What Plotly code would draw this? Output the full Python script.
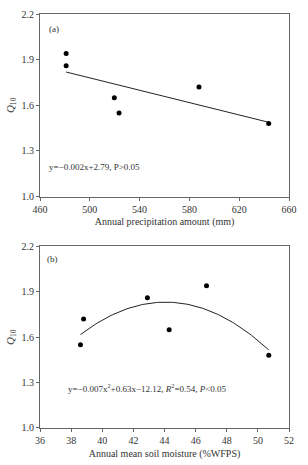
import numpy as np
import plotly.graph_objects as go
from plotly.subplots import make_subplots

# Data
q10 = [1.94, 1.86, 1.65, 1.55, 1.72, 1.48]
precip_mm = [481, 481, 519.7, 523.5, 587.7, 643.7]
soil_moisture = [46.7, 42.9, 44.3, 38.6, 38.8, 50.7]

y_ticks = [1.0, 1.3, 1.6, 1.9, 2.2]
x1_ticks = [460, 500, 540, 580, 620, 660]
x2_ticks = [36, 38, 40, 42, 44, 46, 48, 50, 52]

eq_a = "y=−0.002x+2.79, P>0.05"
eq_b = "y=−0.007x<sup>2</sup>+0.63x−12.12, <i>R</i><sup>2</sup>=0.54, <i>P</i><0.05"
xtitle_a = "Annual precipitation amount (mm)"
xtitle_b = "Annual mean soil moisture (%WFPS)"
ytitle = "<i>Q</i><sub>10</sub>"

FONT = "Liberation Serif"
TXT = "#333333"
AX = "#666666"

fig = make_subplots(rows=2, cols=1, vertical_spacing=0.12)

# linear fit for panel (a)
c1 = np.polyfit(precip_mm, q10, 1)
xa = np.array([min(precip_mm), max(precip_mm)])
fig.add_trace(go.Scatter(x=xa, y=np.polyval(c1, xa), mode="lines",
                         line=dict(color="#222222", width=1), showlegend=False), row=1, col=1)
fig.add_trace(go.Scatter(x=precip_mm, y=q10, mode="markers",
                         marker=dict(color="black", size=5), showlegend=False), row=1, col=1)

# quadratic fit for panel (b)
c2 = np.polyfit(soil_moisture, q10, 2)
xb = np.linspace(min(soil_moisture), max(soil_moisture), 100)
fig.add_trace(go.Scatter(x=xb, y=np.polyval(c2, xb), mode="lines",
                         line=dict(color="#222222", width=1), showlegend=False), row=2, col=1)
fig.add_trace(go.Scatter(x=soil_moisture, y=q10, mode="markers",
                         marker=dict(color="black", size=5), showlegend=False), row=2, col=1)

axis_common = dict(showgrid=False, zeroline=False, showline=True, mirror=True,
                   linecolor=AX, linewidth=1, ticks="outside", ticklen=3,
                   tickcolor=AX, tickfont=dict(family=FONT, size=10, color=TXT))

fig.update_xaxes(**axis_common)
fig.update_yaxes(**axis_common)

fig.update_xaxes(range=[460, 660], tickvals=x1_ticks,
                 title=dict(text=xtitle_a, standoff=4, font=dict(family=FONT, size=10, color=TXT)),
                 row=1, col=1)
fig.update_xaxes(range=[36, 52], tickvals=x2_ticks,
                 title=dict(text=xtitle_b, standoff=4, font=dict(family=FONT, size=10, color=TXT)),
                 row=2, col=1)
for r in (1, 2):
    fig.update_yaxes(range=[1.0, 2.2], tickvals=y_ticks, tickformat=".1f",
                     title=dict(text=ytitle, standoff=4, font=dict(family=FONT, size=11, color=TXT)),
                     row=r, col=1)

H = 465
mt, mb = 8, 33
ph = H - mt - mb
fig.update_layout(
    width=308, height=H,
    margin=dict(l=40, r=19, t=mt, b=mb),
    paper_bgcolor="white", plot_bgcolor="white",
    font=dict(family=FONT, size=10, color=TXT),
    xaxis=dict(domain=[0, 1]), xaxis2=dict(domain=[0, 1]),
    yaxis=dict(domain=[(432 - 195) / ph, 1.0]),
    yaxis2=dict(domain=[0, (432 - 246) / ph]),
)

fig.add_annotation(text="(a)", xref="x domain", yref="y domain", x=0.03, y=0.92,
                   xanchor="left", yanchor="middle", showarrow=False,
                   font=dict(family=FONT, size=9, color=TXT))
fig.add_annotation(text=eq_a, xref="x domain", yref="y domain", x=0.03, y=0.16,
                   xanchor="left", yanchor="middle", showarrow=False,
                   font=dict(family=FONT, size=9, color=TXT))
fig.add_annotation(text="(b)", xref="x2 domain", yref="y2 domain", x=0.02, y=0.93,
                   xanchor="left", yanchor="middle", showarrow=False,
                   font=dict(family=FONT, size=9, color=TXT))
fig.add_annotation(text=eq_b, xref="x2 domain", yref="y2 domain", x=0.105, y=0.22,
                   xanchor="left", yanchor="middle", showarrow=False,
                   font=dict(family=FONT, size=9, color=TXT))

fig.write_html("out.html")
